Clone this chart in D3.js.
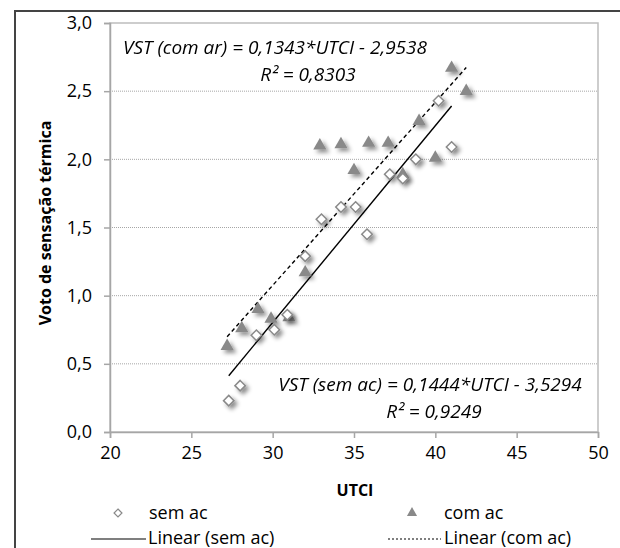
<!DOCTYPE html>
<html>
<head>
<meta charset="utf-8">
<script src="https://cdn.jsdelivr.net/npm/d3@7"></script>
<style>
  body { margin: 0; background: #fff; }
  svg { display: block; }
  text { font-family: "Open Sans", sans-serif; fill: #000; }
</style>
</head>
<body>
<div id="chart"></div>
<script>
// sem ac (diamonds)
var semX = [27.3, 28.0, 29.0, 30.1, 30.9, 32.0, 33.0, 34.2, 35.1, 35.8, 37.2, 38.0, 38.8, 40.2, 41.0];
var semY = [0.23, 0.34, 0.71, 0.75, 0.86, 1.29, 1.56, 1.65, 1.65, 1.45, 1.89, 1.86, 2.00, 2.43, 2.09];
// com ac (triangles)
var comX = [27.2, 28.1, 29.1, 29.9, 31.0, 32.0, 32.9, 34.2, 35.0, 35.9, 37.1, 38.0, 39.0, 40.0, 41.0, 41.9];
var comY = [0.63, 0.76, 0.90, 0.83, 0.84, 1.17, 2.10, 2.11, 1.92, 2.12, 2.12, 1.89, 2.28, 2.01, 2.67, 2.50];
// trend lines [slope, intercept]
var semFit = [0.1444, -3.5294];
var comFit = [0.1343, -2.9538];
var xTicks = [20, 25, 30, 35, 40, 45, 50];
var yTicks = [0, 0.5, 1, 1.5, 2, 2.5, 3];

var W = 620, H = 548;
var svg = d3.select('#chart').append('svg').attr('width', W).attr('height', H);

var defs = svg.append('defs');
var f = defs.append('filter').attr('id', 'shadow').attr('x', '-50%').attr('y', '-50%').attr('width', '250%').attr('height', '250%');
f.append('feDropShadow').attr('dx', 3).attr('dy', 3).attr('stdDeviation', 2)
    .attr('flood-color', '#000').attr('flood-opacity', 0.45);

// outer chart frame: only top and left sides are on the page
svg.append('rect').attr('x', 14).attr('y', 10).attr('width', 2).attr('height', H - 10).attr('fill', '#444');
svg.append('rect').attr('x', 14).attr('y', 10).attr('width', W - 14).attr('height', 2).attr('fill', '#444');

var x = d3.scaleLinear().domain([20, 50]).range([110, 598]);
var y = d3.scaleLinear().domain([0, 3]).range([432, 23]);
var fmt = function (d) { return d3.format('.1f')(d).replace('.', ','); };

// grid
svg.append('g').selectAll('line').data(yTicks.filter(function (d) { return d > 0 && d < 3; }))
    .enter().append('line')
    .attr('x1', x(20)).attr('x2', x(50))
    .attr('y1', function (d) { return y(d); }).attr('y2', function (d) { return y(d); })
    .attr('stroke', '#a6a6a6').attr('stroke-dasharray', '1,1');

// plot border
svg.append('rect').attr('x', x(20)).attr('y', y(3)).attr('width', x(50) - x(20)).attr('height', y(0) - y(3))
    .attr('fill', 'none').attr('stroke', '#bdbdbd').attr('stroke-width', 1.5);

// axes
var xAxis = svg.append('g').attr('transform', 'translate(0,' + y(0) + ')')
    .call(d3.axisBottom(x).tickValues(xTicks).tickSize(6).tickPadding(8).tickFormat(d3.format('d')));
var yAxis = svg.append('g').attr('transform', 'translate(' + x(20) + ',0)')
    .call(d3.axisLeft(y).tickValues(yTicks).tickSize(6).tickPadding(12).tickFormat(fmt));
[xAxis, yAxis].forEach(function (a) {
    a.select('.domain').attr('stroke', '#a6a6a6').attr('stroke-width', 1.5);
    a.selectAll('.tick line').attr('stroke', '#a6a6a6').attr('stroke-width', 1.5);
    a.selectAll('.tick text').style('font-family', '"Open Sans", sans-serif').style('font-size', '18px').attr('fill', '#000');
});

// axis titles
svg.append('text').attr('x', 355).attr('y', 496).attr('text-anchor', 'middle')
    .style('font-size', '16px').style('font-weight', 'bold').text('UTCI');
svg.append('text').attr('transform', 'translate(51,223) rotate(-90)').attr('text-anchor', 'middle')
    .style('font-size', '16px').style('font-weight', 'bold').text('Voto de sensação térmica');

// trend lines
function fitLine(fit, xs) {
    var x0 = d3.min(xs), x1 = d3.max(xs);
    return [[x0, fit[0] * x0 + fit[1]], [x1, fit[0] * x1 + fit[1]]];
}
var line = d3.line().x(function (d) { return x(d[0]); }).y(function (d) { return y(d[1]); });
svg.append('path').attr('d', line(fitLine(semFit, semX))).attr('fill', 'none')
    .attr('stroke', '#000').attr('stroke-width', 1.4);
svg.append('path').attr('d', line(fitLine(comFit, comX))).attr('fill', 'none')
    .attr('stroke', '#000').attr('stroke-width', 1.4).attr('stroke-dasharray', '4,3');

// points
var sem = d3.zip(semX, semY), com = d3.zip(comX, comY);
var diamond = d3.symbol().type(d3.symbolDiamond2).size(70);
var tri = d3.symbol().type(d3.symbolTriangle).size(75);

svg.append('g').attr('filter', 'url(#shadow)').selectAll('path').data(com).enter().append('path')
    .attr('d', tri).attr('transform', function (d) { return 'translate(' + x(d[0]) + ',' + y(d[1]) + ')'; })
    .attr('fill', '#898989');
svg.append('g').attr('filter', 'url(#shadow)').selectAll('path').data(sem).enter().append('path')
    .attr('d', diamond).attr('transform', function (d) { return 'translate(' + x(d[0]) + ',' + y(d[1]) + ')'; })
    .attr('fill', '#fff').attr('stroke', '#8a8a8a').attr('stroke-width', 1.5);

// equations
function eq(label, fit, r2, cx, cy, r2x) {
    var t = svg.append('text').attr('x', cx).attr('y', cy).attr('text-anchor', 'middle')
        .style('font-size', '19px').style('font-style', 'italic');
    t.append('tspan').attr('x', cx).text('VST (' + label + ') = ' + String(fit[0]).replace('.', ',') + '*UTCI - ' +
        String(-fit[1]).replace('.', ','));
    t.append('tspan').attr('x', r2x).attr('dy', 27).text('R² = ' + r2);
}
eq('com ar', comFit, '0,8303', 275, 54, 308);
eq('sem ac', semFit, '0,9249', 430, 391, 434);

// legend
var lg = svg.append('g').style('font-size', '18px');
lg.append('path').attr('d', d3.symbol().type(d3.symbolDiamond2).size(40)).attr('transform', 'translate(118,513)')
    .attr('fill', '#fff').attr('stroke', '#8a8a8a').attr('stroke-width', 1.2);
lg.append('text').attr('x', 149).attr('y', 519).text('sem ac');
lg.append('path').attr('d', d3.symbol().type(d3.symbolTriangle).size(45)).attr('transform', 'translate(412,513)')
    .attr('fill', '#898989');
lg.append('text').attr('x', 444).attr('y', 519).text('com ac');
lg.append('line').attr('x1', 91).attr('x2', 146).attr('y1', 539).attr('y2', 539).attr('stroke', '#000').attr('stroke-width', 1.2);
lg.append('text').attr('x', 148).attr('y', 544).text('Linear (sem ac)');
lg.append('line').attr('x1', 388).attr('x2', 441).attr('y1', 539).attr('y2', 539).attr('stroke', '#000')
    .attr('stroke-width', 1.2).attr('stroke-dasharray', '2,2');
lg.append('text').attr('x', 444).attr('y', 544).text('Linear (com ac)');
</script>
</body>
</html>
